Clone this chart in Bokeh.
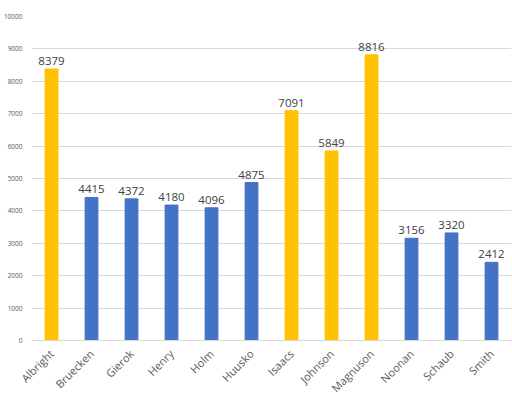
from bokeh.plotting import figure
from bokeh.models import ColumnDataSource, FixedTicker, LabelSet
from bokeh.core.properties import value
from bokeh.embed import file_html
from bokeh.resources import INLINE

names = ["Albright", "Bruecken", "Gierok", "Henry", "Holm", "Huusko", "Isaacs",
         "Johnson", "Magnuson", "Noonan", "Schaub", "Smith"]
values = [8379, 4415, 4372, 4180, 4096, 4875, 7091, 5849, 8816, 3156, 3320, 2412]
highlight = ["Albright", "Isaacs", "Johnson", "Magnuson"]
y_ticks = [0, 1000, 2000, 3000, 4000, 5000, 6000, 7000, 8000, 9000, 10000]

GOLD = "#FFC000"
BLUE = "#4472C4"
colors = [GOLD if n in highlight else BLUE for n in names]

src = ColumnDataSource(dict(names=names, values=values, colors=colors,
                            labels=[str(v) for v in values]))

p = figure(x_range=names, y_range=(0, 10000), output_backend="svg",
           toolbar_location=None, frame_width=480, frame_height=324,
           min_border_left=23, min_border_top=16, min_border_right=1,
           min_border_bottom=10)

p.vbar(x="names", top="values", width=0.32, color="colors", source=src)

labels = LabelSet(x="names", y="values", text="labels", source=src,
                  text_align="center", text_baseline="bottom", y_offset=4,
                  text_font_size="11.5px", text_color="#404040",
                  text_font=value("Open Sans"))
p.add_layout(labels)

p.outline_line_color = None
p.xgrid.grid_line_color = None
p.ygrid.grid_line_color = "#d9d9d9"
p.ygrid.grid_line_width = 1

p.yaxis.ticker = FixedTicker(ticks=y_ticks)
p.yaxis.axis_line_color = None
p.yaxis.major_tick_line_color = None
p.yaxis.minor_tick_line_color = None
p.yaxis.major_label_text_font_size = "6.5px"
p.yaxis.major_label_text_color = "#595959"
p.yaxis.major_label_text_font = "Open Sans"
p.yaxis.major_label_standoff = 3

p.xaxis.axis_line_color = "#d9d9d9"
p.xaxis.major_tick_line_color = None
p.xaxis.minor_tick_line_color = None
p.xaxis.major_label_orientation = 0.785398
p.xaxis.major_label_text_font_size = "11px"
p.xaxis.major_label_text_color = "#595959"
p.xaxis.major_label_text_font = "Open Sans"
p.xaxis.major_label_standoff = 5

open("out.html", "w").write(file_html(p, INLINE))
